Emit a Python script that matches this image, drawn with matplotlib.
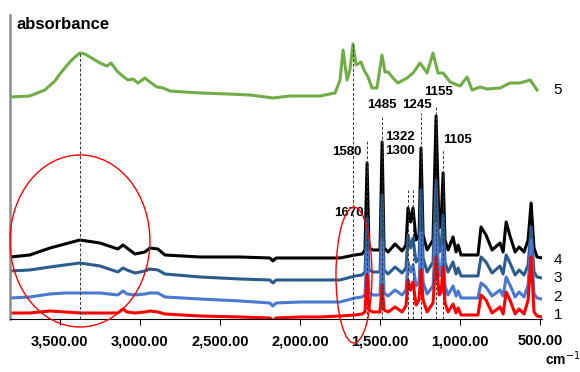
import matplotlib
matplotlib.use("Agg")
import matplotlib.pyplot as plt
from matplotlib.patches import Ellipse
from matplotlib.ticker import FuncFormatter

plt.rcParams['font.family'] = ['Liberation Sans', 'DejaVu Sans']

# wavenumbers (cm-1) shared by spectra 1-4
wn = [3810, 3688, 3562, 3469, 3375, 3250, 3138, 3106, 3081, 3031,
      2969, 2938, 2888, 2844, 2625, 2375, 2188, 2169, 2150, 2000,
      1875, 1750, 1656, 1612, 1594, 1581, 1569, 1544, 1500, 1487,
      1475, 1450, 1406, 1362, 1338, 1325, 1309, 1294, 1275, 1256,
      1244, 1231, 1206, 1169, 1150, 1131, 1119, 1106, 1094, 1075,
      1044, 1025, 1012, 994, 888, 869, 838, 800, 750, 731,
      712, 688, 656, 631, 600, 575, 556, 538, 519, 488]

# stacked absorbance (a.u.)
spec4 = [0.62, 0.64, 0.71, 0.75, 0.79, 0.76, 0.70, 0.74, 0.71, 0.65,
         0.67, 0.71, 0.70, 0.64, 0.62, 0.62, 0.61, 0.58, 0.61, 0.61,
         0.61, 0.61, 0.64, 0.65, 0.69, 1.56, 0.71, 0.69, 0.69, 1.77,
         0.71, 0.67, 0.75, 0.68, 0.74, 1.11, 0.97, 1.11, 0.79, 0.84,
         1.71, 0.84, 0.69, 0.79, 2.03, 0.91, 0.94, 1.46, 0.79, 0.69,
         0.82, 0.67, 0.74, 0.64, 0.64, 0.92, 0.84, 0.69, 0.76, 0.67,
         0.97, 0.83, 0.67, 0.72, 0.67, 0.79, 1.16, 0.71, 0.62, 0.61]
spec3 = [0.48, 0.49, 0.52, 0.54, 0.56, 0.53, 0.47, 0.51, 0.49, 0.46,
         0.48, 0.50, 0.49, 0.45, 0.42, 0.40, 0.39, 0.36, 0.39, 0.39,
         0.39, 0.39, 0.43, 0.44, 0.47, 1.01, 0.49, 0.47, 0.47, 1.24,
         0.49, 0.45, 0.52, 0.46, 0.51, 0.84, 0.71, 0.81, 0.57, 0.61,
         1.29, 0.61, 0.47, 0.57, 1.39, 0.67, 0.69, 1.04, 0.57, 0.47,
         0.57, 0.45, 0.51, 0.43, 0.43, 0.62, 0.57, 0.46, 0.53, 0.45,
         0.64, 0.56, 0.44, 0.49, 0.44, 0.54, 0.92, 0.47, 0.42, 0.41]
spec2 = [0.21, 0.22, 0.25, 0.26, 0.26, 0.26, 0.24, 0.28, 0.25, 0.24,
         0.25, 0.26, 0.26, 0.22, 0.20, 0.18, 0.16, 0.13, 0.16, 0.17,
         0.17, 0.17, 0.21, 0.22, 0.24, 0.69, 0.26, 0.24, 0.24, 0.79,
         0.26, 0.23, 0.29, 0.24, 0.29, 0.57, 0.47, 0.54, 0.33, 0.37,
         0.87, 0.37, 0.25, 0.33, 0.94, 0.43, 0.44, 0.74, 0.33, 0.24,
         0.33, 0.23, 0.28, 0.21, 0.21, 0.36, 0.32, 0.23, 0.29, 0.23,
         0.42, 0.34, 0.22, 0.27, 0.22, 0.34, 0.79, 0.25, 0.21, 0.20]
spec1 = [0.06, 0.06, 0.08, 0.07, 0.06, 0.06, 0.06, 0.10, 0.07, 0.06,
         0.07, 0.08, 0.07, 0.05, 0.03, 0.02, 0.01, -0.02, 0.01, 0.02,
         0.02, 0.03, 0.04, 0.05, 0.07, 0.44, 0.09, 0.07, 0.07, 0.34,
         0.09, 0.07, 0.12, 0.07, 0.13, 0.39, 0.29, 0.37, 0.14, 0.19,
         0.49, 0.19, 0.07, 0.16, 0.62, 0.24, 0.26, 0.52, 0.16, 0.07,
         0.15, 0.06, 0.11, 0.04, 0.04, 0.24, 0.19, 0.06, 0.12, 0.05,
         0.27, 0.19, 0.05, 0.10, 0.05, 0.19, 0.62, 0.07, 0.03, 0.02]

# spectrum 5 has its own sampling
wn5 = [3810, 3688, 3594, 3531, 3500, 3438, 3406, 3375, 3344, 3312,
       3281, 3250, 3206, 3181, 3138, 3100, 3075, 3044, 3012, 2969,
       2938, 2894, 2856, 2812, 2725, 2625, 2450, 2312, 2169, 2062,
       1875, 1781, 1750, 1731, 1706, 1688, 1669, 1650, 1619, 1600,
       1575, 1550, 1519, 1488, 1469, 1450, 1419, 1388, 1331, 1294,
       1250, 1206, 1169, 1138, 1106, 1062, 1000, 956, 925, 875,
       831, 750, 688, 625, 562, 519]
spec5 = [2.22, 2.23, 2.29, 2.38, 2.45, 2.57, 2.62, 2.66, 2.65, 2.62,
         2.59, 2.56, 2.53, 2.56, 2.47, 2.42, 2.39, 2.40, 2.36, 2.41,
         2.37, 2.32, 2.31, 2.28, 2.27, 2.26, 2.25, 2.24, 2.21, 2.23,
         2.23, 2.26, 2.39, 2.69, 2.39, 2.49, 2.75, 2.54, 2.57, 2.49,
         2.42, 2.31, 2.31, 2.64, 2.47, 2.47, 2.41, 2.36, 2.41, 2.46,
         2.56, 2.46, 2.66, 2.46, 2.46, 2.37, 2.33, 2.42, 2.29, 2.32,
         2.30, 2.31, 2.36, 2.36, 2.39, 2.29]

# marker lines
dash_wn = [3375, 1669, 1581, 1487, 1325, 1294, 1244, 1150, 1106]
dash_top = [2.66, 2.75, 1.79, 2.02, 1.29, 1.29, 2.06, 2.12, 1.70]

# peak annotations: text, wavenumber, height
peak_text = ['1670', '1580', '1485', '1322', '1300', '1245', '1155', '1105']
peak_x = [1694, 1706, 1487, 1375, 1375, 1269, 1137, 1019]
peak_y = [1.06, 1.67, 2.14, 1.82, 1.68, 2.14, 2.27, 1.79]

fig = plt.figure(figsize=(5.8, 3.72), dpi=100)
ax = fig.add_axes([0.0172, 0.1425, 0.9173, 0.8172])

ax.plot(wn5, spec5, color='#70AD47', lw=2.2, zorder=2)
ax.plot(wn, spec4, color='black', lw=2.2, zorder=2)
ax.plot(wn, spec3, color='#2B5C8A', lw=2.2, zorder=2)
ax.plot(wn, spec2, color='#4A78D0', lw=2.2, zorder=2)
ax.plot(wn, spec1, color='#FF0000', lw=2.2, zorder=2)

ax.vlines(dash_wn, 0, dash_top, colors='#333333', linestyles=(0, (3, 2)),
          lw=0.7, zorder=3)

for t, x, y in zip(peak_text, peak_x, peak_y):
    ax.text(x, y, t, ha='center', va='center', fontsize=9.5,
            fontweight='bold', zorder=4)

ax.set_xlim(3812, 488)
ax.set_ylim(0, 3.04)
ax.set_xticks([3500, 3000, 2500, 2000, 1500, 1000, 500])
ax.xaxis.set_major_formatter(FuncFormatter(lambda v, p: f"{v:,.2f}"))
ax.tick_params(axis='x', direction='out', length=4, width=0.8, pad=7,
               labelsize=10.5)
for lab in ax.get_xticklabels():
    lab.set_fontweight('bold')
ax.set_yticks([])
ax.spines['top'].set_visible(False)
ax.spines['right'].set_visible(False)
ax.spines['left'].set_color('#8C8C8C')
ax.spines['left'].set_linewidth(1.8)
ax.spines['bottom'].set_linewidth(0.8)

ax.text(0.013, 0.995, 'absorbance', transform=ax.transAxes, ha='left',
        va='top', fontsize=12, fontweight='bold')

ax.add_patch(Ellipse((0.1316, 0.2566), 0.263, 0.566, transform=ax.transAxes,
                     fill=False, edgecolor='red', lw=1.0, clip_on=False, zorder=5))
ax.add_patch(Ellipse((0.6466, 0.1447), 0.0677, 0.447, transform=ax.transAxes,
                     fill=False, edgecolor='red', lw=1.0, clip_on=False, zorder=5))

for lab, py in zip(['5', '4', '3', '2', '1'], [90, 260, 278, 297, 315]):
    fig.text(558 / 580, 1 - py / 372, lab, ha='center', va='center',
             fontsize=11)

fig.text(0.94, 0.012, 'cm$^{-1}$', ha='left', va='bottom', fontsize=10,
         fontweight='bold')

fig.savefig('out.png', dpi=100)
